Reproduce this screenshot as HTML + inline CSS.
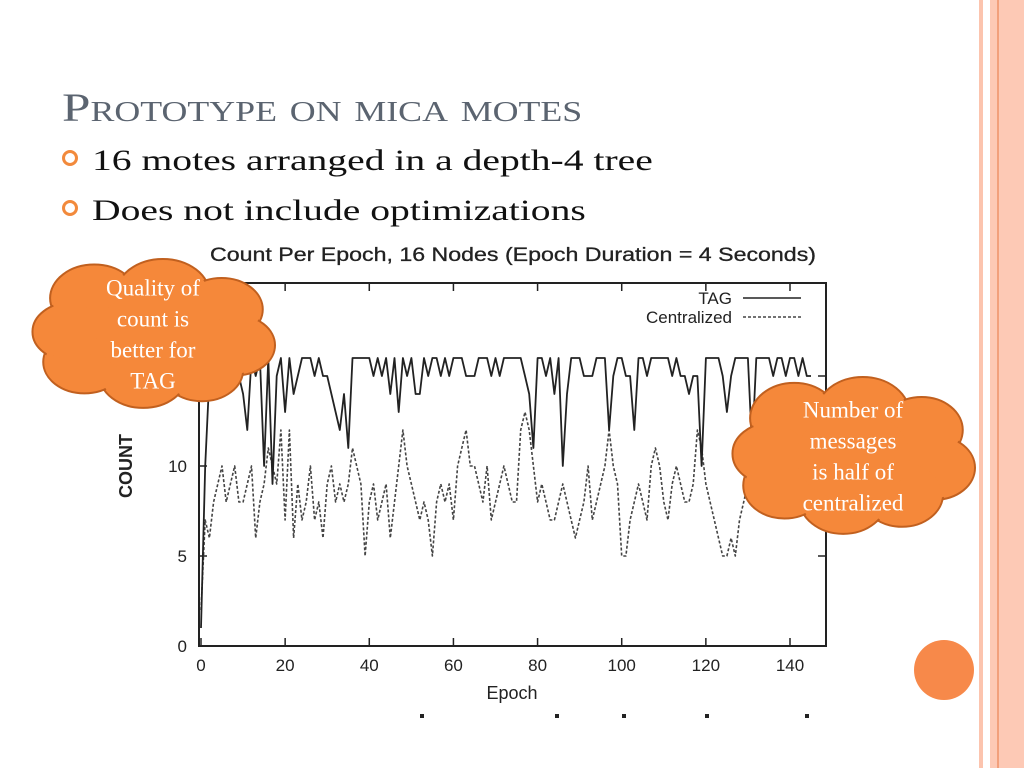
<!DOCTYPE html>
<html><head><meta charset="utf-8">
<style>
body{margin:0;width:1024px;height:768px;overflow:hidden;background:#fff;font-family:"Liberation Serif",serif;}
.abs{position:absolute}
.wide{display:inline-block;transform:scaleX(1.32);transform-origin:left center}
</style></head>
<body>
<div class="abs" style="left:0;top:0;width:1024px;height:768px;background:#fff">
  <div class="abs" style="left:979px;top:0;width:4px;height:768px;background:#fcc4ae"></div>
  <div class="abs" style="left:990px;top:0;width:34px;height:768px;background:#fdc9b5"></div>
  <div class="abs" style="left:997px;top:0;width:2px;height:768px;background:#f2a07c"></div>
  <div class="abs" style="left:62px;top:84px;font-size:40px;color:#5b6470;font-variant:small-caps;white-space:nowrap"><span class="wide" style="transform:scaleX(1.28)">Prototype on mica motes</span></div>
  <div class="abs" style="left:62px;top:144px;font-size:30px;color:#111;white-space:nowrap"><span style="display:inline-block;width:10px;height:10px;border:3px solid #f28a3c;border-radius:50%;margin-right:14px;vertical-align:4px"></span><span class="wide">16 motes arranged in a depth-4 tree</span></div>
  <div class="abs" style="left:62px;top:194px;font-size:30px;color:#111;white-space:nowrap"><span style="display:inline-block;width:10px;height:10px;border:3px solid #f28a3c;border-radius:50%;margin-right:14px;vertical-align:4px"></span><span class="wide">Does not include optimizations</span></div>
  <svg id="chart" class="abs" style="left:0;top:0" width="1024" height="768"></svg>
</div>
<script>
const xTicks=[0,20,40,60,80,100,120,140];
const yTicks=[0,5,10];
const tagValues=[1,10,15,16,15,16,15,16,15,15,14,12,16,15,16,10,16,9,15,16,13,16,14,15,16,16,16,15,16,15,15,14,13,12,14,11,16,16,16,16,16,15,16,15,16,14,16,13,16,15,16,14,14,16,15,16,16,15,16,15,16,16,16,15,15,15,16,16,16,15,16,15,16,16,16,16,16,15,14,11,16,16,15,16,14,16,10,14,16,16,16,15,15,15,16,16,16,12,15,16,16,15,15,12,16,16,15,16,16,16,16,16,15,16,15,15,14,15,15,10,16,16,16,16,15,13,15,16,16,16,16,11,16,16,16,16,15,16,16,15,16,16,15,16,15,15];
const centralizedValues=[2,7,6,8,9,10,8,9,10,8,8,9,10,6,8,9,11,10,9,12,7,12,6,9,7,8,10,7,8,6,9,10,8,9,8,9,11,10,9,5,8,9,7,8,9,6,8,10,12,10,9,8,7,8,7,5,8,9,8,9,7,10,11,12,10,10,9,8,10,7,8,9,10,9,8,8,12,13,12,10,8,9,8,7,7,8,9,8,7,6,7,8,10,7,8,9,10,12,10,9,5,5,7,8,9,8,7,10,11,10,8,7,9,10,9,8,8,9,12,11,9,8,7,6,5,5,6,5,7,8,9,9,10,11,10,9,8,10,11,10,11,9,10,10,11,10];
const NS="http://www.w3.org/2000/svg";
const svg=document.getElementById('chart');
const L=199,R=826,T=283,B=646;
const xs=v=>201+v*(790-201)/140;
const ys=v=>646-v*18;
function mk(tag,attrs,parent){const e=document.createElementNS(NS,tag);for(const k in attrs)e.setAttribute(k,attrs[k]);(parent||svg).appendChild(e);return e;}
let t=mk('text',{x:210,y:261,textLength:606,lengthAdjust:'spacingAndGlyphs','font-family':'Liberation Sans, sans-serif','font-size':19,fill:'#222','stroke':'#222','stroke-width':0.3});

t.textContent='Count Per Epoch, 16 Nodes (Epoch Duration = 4 Seconds)';
let box=mk('rect',{x:L,y:T,width:R-L,height:B-T,fill:'none',stroke:'#222','stroke-width':2});

xTicks.forEach(v=>{
  const x=xs(v);
  mk('line',{x1:x,x2:x,y1:B,y2:B-8,stroke:'#222','stroke-width':1.5});
  mk('line',{x1:x,x2:x,y1:T,y2:T+8,stroke:'#222','stroke-width':1.5});
  const l=mk('text',{x:x,y:671,'text-anchor':'middle','font-family':'Liberation Sans, sans-serif','font-size':17,fill:'#222'});
  
  l.textContent=v;
});
yTicks.concat([15]).forEach(v=>{
  const y=ys(v);
  mk('line',{x1:L,x2:L+8,y1:y,y2:y,stroke:'#222','stroke-width':1.5});
  mk('line',{x1:R,x2:R-8,y1:y,y2:y,stroke:'#222','stroke-width':1.5});
});
yTicks.forEach(v=>{
  const l=mk('text',{x:187,y:ys(v)+6,'text-anchor':'end','font-family':'Liberation Sans, sans-serif','font-size':17,fill:'#222'});
  
  l.textContent=v;
});
let xt=mk('text',{x:512,y:699,'text-anchor':'middle','font-family':'Liberation Sans, sans-serif','font-size':18,fill:'#222'});
xt.textContent='Epoch';
let yt=mk('text',{x:0,y:0,transform:'translate(132,466) rotate(-90)','text-anchor':'middle','font-family':'Liberation Sans, sans-serif','font-size':18,'font-weight':'bold',fill:'#222'});
yt.textContent='COUNT';
function line(vals,dash,name){
  const d=vals.map((v,i)=>(i?'L':'M')+xs(i).toFixed(1)+','+ys(v).toFixed(1)).join('');
  const p=mk('path',{d:d,fill:'none',stroke:dash?'#444':'#222','stroke-width':dash?1.6:1.8,'stroke-dasharray':dash?'3,2':'none','stroke-linejoin':'round'});
  
}
line(centralizedValues,true,'centralized-series');
line(tagValues,false,'tag-series');
let lg=mk('text',{x:732,y:304,'text-anchor':'end','font-family':'Liberation Sans, sans-serif','font-size':17,fill:'#222'});
lg.textContent='TAG';
mk('line',{x1:743,x2:801,y1:298,y2:298,stroke:'#222','stroke-width':1.5});
let lg2=mk('text',{x:732,y:323,'text-anchor':'end','font-family':'Liberation Sans, sans-serif','font-size':17,fill:'#222'});
lg2.textContent='Centralized';
mk('line',{x1:743,x2:801,y1:317,y2:317,stroke:'#444','stroke-width':1.5,'stroke-dasharray':'3,2'});
[420,555,622,705,805].forEach(x=>mk('rect',{x:x,y:714,width:4,height:4,fill:'#222'}));
function cloud(cx,cy,w,h,lines,name){
  const g=mk('g',{});
  const pts=[[-0.3,-0.32,0.3],[0.05,-0.35,0.32],[0.35,-0.22,0.28],[0.42,0.1,0.27],[0.25,0.32,0.28],[-0.05,0.36,0.3],[-0.35,0.25,0.28],[-0.42,-0.02,0.26],[0,0,0.4]];
  pts.forEach(p=>mk('ellipse',{cx:cx+p[0]*w,cy:cy+p[1]*h,rx:p[2]*w*0.75,ry:p[2]*h,fill:'#f5883a',stroke:'#c1601f','stroke-width':2},g));
  pts.forEach(p=>mk('ellipse',{cx:cx+p[0]*w,cy:cy+p[1]*h,rx:p[2]*w*0.75-2,ry:p[2]*h-2,fill:'#f5883a'},g));
  lines.forEach((s,i)=>{const tx=mk('text',{x:cx,y:cy-(lines.length-1)*15.5+i*31+8,'text-anchor':'middle','font-family':'Liberation Serif, serif','font-size':23,fill:'#fff'},g);tx.textContent=s;});
}
cloud(153,334,196,112,['Quality of','count is','better for','TAG'],'quality-callout');
cloud(853,456,196,118,['Number of','messages','is half of','centralized'],'messages-callout');
let c=mk('circle',{cx:944,cy:670,r:30,fill:'#f7894a'});

</script>
</body></html>
